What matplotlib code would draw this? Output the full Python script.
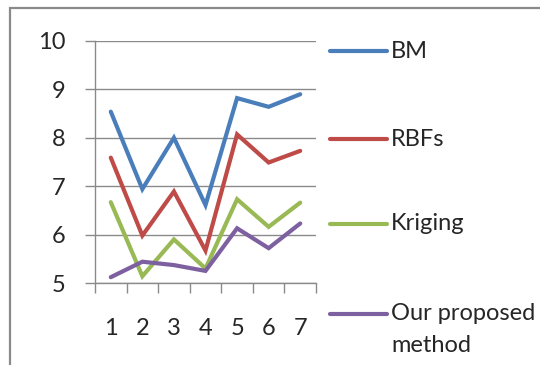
import numpy as np
import matplotlib.pyplot as plt
from matplotlib.lines import Line2D
from matplotlib.patches import Rectangle
from matplotlib.ticker import FixedLocator

# Data

categories = ["1", "2", "3", "4", "5", "6", "7"]
series_names = ["BM", "RBFs", "Kriging", "Our proposed\nmethod"]
bm = [8.54, 6.94, 8.00, 6.61, 8.82, 8.64, 8.90]
rbfs = [7.59, 5.98, 6.89, 5.67, 8.07, 7.49, 7.73]
kriging = [6.67, 5.14, 5.90, 5.30, 6.73, 6.16, 6.66]
proposed = [5.12, 5.44, 5.37, 5.25, 6.13, 5.72, 6.23]
yticks = [5, 6, 7, 8, 9, 10]

colors = ["#4A7EBB", "#BE4B48", "#98B954", "#7D60A0"]

plt.rcParams["font.family"] = ["Lato", "DejaVu Sans"]
fs = 17
txt_color = "#262626"

W, H = 540, 365
fig = plt.figure(figsize=(W/100, H/100), dpi=100)
fig.patch.set_facecolor("white")

# outer chart frame (runs off the right and bottom edges)
fig.add_artist(Rectangle((10/W, -0.1), 1.2, (H - 8)/H + 0.1,
                         transform=fig.transFigure, fill=False,
                         edgecolor="#8a8a8a", linewidth=1.6))

ax = fig.add_axes([95/W, (H - 283)/H, (316 - 95)/W, (283 - 41)/H])

x = np.arange(1, len(categories) + 1)
for vals, c in zip([bm, rbfs, kriging, proposed], colors):
    ax.plot(x, vals, color=c, linewidth=3.0, solid_capstyle="round",
            solid_joinstyle="miter")

ax.set_xlim(0.5, len(categories) + 0.5)
ax.set_ylim(yticks[0], yticks[-1])
ax.set_yticks(yticks)
ax.yaxis.grid(True, color="#8a8a8a", linewidth=1.0)
ax.set_axisbelow(True)

ax.set_xticks(x)
ax.set_xticklabels(categories)
ax.xaxis.set_minor_locator(FixedLocator(np.arange(0.5, len(categories) + 1, 1.0)))
ax.tick_params(axis="x", which="major", length=0, pad=25, labelsize=fs,
               colors=txt_color)
ax.tick_params(axis="x", which="minor", length=7, width=1.0, color="#8a8a8a")
ax.tick_params(axis="y", length=7, width=1.0, color="#8a8a8a", pad=14,
               labelsize=fs, labelcolor=txt_color)

for side in ["top", "right"]:
    ax.spines[side].set_visible(False)
for side in ["left", "bottom"]:
    ax.spines[side].set_color("#8a8a8a")
    ax.spines[side].set_linewidth(1.0)

# legend drawn by hand to keep Excel-like spacing
legend_y = [51, 139, 224, 314]
for name, c, ly in zip(series_names, colors, legend_y):
    fy = (H - ly)/H
    fig.add_artist(Line2D([330/W, 387/W], [fy, fy], color=c, linewidth=3.0,
                          solid_capstyle="round", transform=fig.transFigure))
    fig.text(391/W, fy, name.split("\n")[0], fontsize=fs, color=txt_color,
             va="center", ha="left")
    if "\n" in name:
        fig.text(391/W, (H - ly - 31)/H, name.split("\n")[1], fontsize=fs,
                 color=txt_color, va="center", ha="left")

plt.savefig("out.png", dpi=100, facecolor="white")
plt.close()
